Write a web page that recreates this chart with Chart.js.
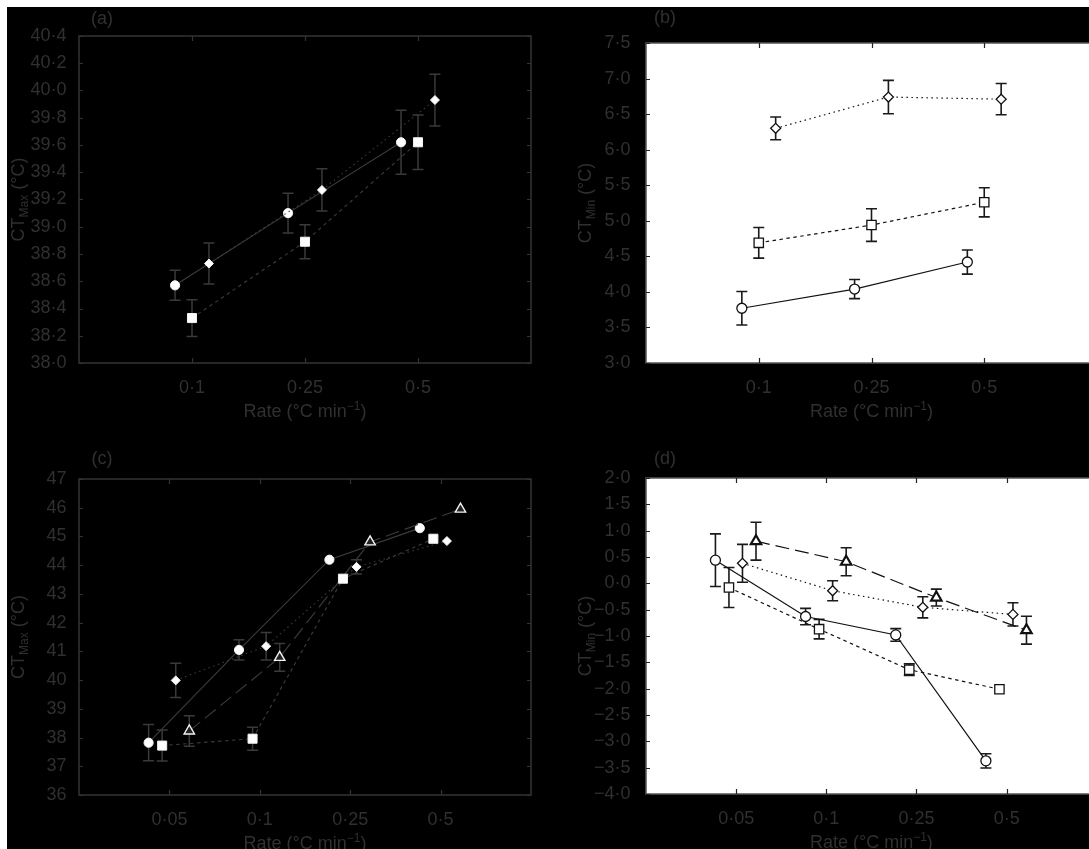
<!DOCTYPE html>
<html>
<head>
<meta charset="utf-8">
<script src="https://cdn.jsdelivr.net/npm/chart.js@4.4.1/dist/chart.umd.min.js"></script>
<style>
  html, body { margin: 0; padding: 0; background: #000; width: 1089px; height: 849px; overflow: hidden; }
  body { position: relative; }
  .panel { position: absolute; overflow: hidden; }
  .strip { position: absolute; background: #fff; z-index: 5; }
</style>
</head>
<body>
<div class="strip" style="left:0;top:0;width:1089px;height:7px"></div>
<div class="strip" style="left:0;top:0;width:7px;height:849px"></div>
<div class="panel" style="left:0;top:0;width:545px;height:425px"><canvas id="panelA" width="545" height="425"></canvas></div>
<div class="panel" style="left:545px;top:0;width:544px;height:425px"><canvas id="panelB" width="560" height="425"></canvas></div>
<div class="panel" style="left:0;top:425px;width:545px;height:424px"><canvas id="panelC" width="545" height="424"></canvas></div>
<div class="panel" style="left:545px;top:425px;width:544px;height:424px"><canvas id="panelD" width="560" height="424"></canvas></div>
<script>
// rates (°C min-1) used as x categories
const ratesAB = ['0·1', '0·25', '0·5'];
const ratesCD = ['0·05', '0·1', '0·25', '0·5'];

// (a) CTmax
const aCircle = [38.57, 39.10, 39.62];
const aCircleErr = [0.11, 0.145, 0.235];
const aSquare = [38.33, 38.89, 39.62];
const aSquareErr = [0.135, 0.125, 0.2];
const aDiamond = [38.73, 39.27, 39.93];
const aDiamondErr = [0.15, 0.155, 0.19];

// (b) CTmin
const bCircle = [3.77, 4.04, 4.42];
const bCircleErr = [0.235, 0.135, 0.17];
const bSquare = [4.69, 4.94, 5.26];
const bSquareErr = [0.215, 0.23, 0.205];
const bDiamond = [6.30, 6.74, 6.71];
const bDiamondErr = [0.16, 0.235, 0.22];

// (c) CTmax
const cCircle = [37.82, 41.05, 44.19, 45.29];
const cCircleErr = [0.63, 0.35, null, null];
const cSquare = [37.72, 37.96, 43.53, 44.92];
const cSquareErr = [0.54, 0.4, null, null];
const cDiamond = [39.99, 41.18, 43.94, 44.84];
const cDiamondErr = [0.6, 0.48, 0.25, null];
const cTriangle = [38.23, 40.79, 44.81, 45.95];
const cTriangleErr = [0.53, 0.48, null, null];

// (d) CTmin
const dCircle = [0.44, -0.63, -0.98, -3.37];
const dCircleErr = [0.5, 0.155, 0.12, 0.135];
const dSquare = [-0.08, -0.87, -1.64, -2.01];
const dSquareErr = [0.38, 0.185, 0.11, null];
const dDiamond = [0.38, -0.14, -0.455, -0.59];
const dDiamondErr = [0.36, 0.19, 0.2, 0.22];
const dTriangle = [0.80, 0.41, -0.27, -0.89];
const dTriangleErr = [0.36, 0.265, 0.16, 0.265];

const FONT = '"Liberation Sans", Arial, Helvetica, sans-serif';
const TEXT = '#303030';

function fmtTick(v, dec) {
    if (Math.abs(v) < 1e-9) v = 0;
    return v.toFixed(dec).replace('.', '·').replace('-', '−');
}

// draws a run of text pieces [text, size, shift] centred on cx
function drawRich(ctx, parts, cx, cy) {
    let total = 0;
    parts.forEach(p => { ctx.font = p[1] + 'px ' + FONT; total += ctx.measureText(p[0]).width; });
    let x = cx - total / 2;
    ctx.textAlign = 'left';
    ctx.textBaseline = 'alphabetic';
    parts.forEach(p => {
        ctx.font = p[1] + 'px ' + FONT;
        ctx.fillText(p[0], x, cy + 6.5 + p[2]);
        x += ctx.measureText(p[0]).width;
    });
}

const figurePlugin = {
    id: 'figure',
    beforeDatasetsDraw(chart, args, o) {
        const {ctx, chartArea: a, scales: {x, y}} = chart;
        ctx.save();
        if (o.plotBg) {
            ctx.fillStyle = o.plotBg;
            ctx.fillRect(a.left, a.top, chart.width - a.left, a.bottom - a.top);
        }
        ctx.strokeStyle = o.frame;
        ctx.lineWidth = 1.5;
        ctx.strokeRect(a.left, a.top, a.right - a.left, a.bottom - a.top);

        // inward tick marks
        ctx.strokeStyle = o.tickColor;
        ctx.lineWidth = 1.2;
        ctx.beginPath();
        y.ticks.forEach(t => {
            const py = Math.round(y.getPixelForValue(t.value)) + 0.5;
            ctx.moveTo(a.left, py); ctx.lineTo(a.left + 4, py);
            ctx.moveTo(a.right, py); ctx.lineTo(a.right - 4, py);
        });
        x.ticks.forEach(t => {
            const px = Math.round(x.getPixelForValue(t.value)) + 0.5;
            ctx.moveTo(px, a.top); ctx.lineTo(px, a.top + 5);
            ctx.moveTo(px, a.bottom); ctx.lineTo(px, a.bottom - 5);
        });
        ctx.stroke();

        // error bars
        ctx.strokeStyle = o.errColor;
        ctx.lineWidth = o.errWidth;
        chart.data.datasets.forEach((ds, di) => {
            const meta = chart.getDatasetMeta(di);
            ds.errors.forEach((e, i) => {
                if (e == null) return;
                const px = meta.data[i].x;
                const y1 = y.getPixelForValue(ds.data[i].y + e);
                const y2 = y.getPixelForValue(ds.data[i].y - e);
                ctx.beginPath();
                ctx.moveTo(px, y1); ctx.lineTo(px, y2);
                ctx.moveTo(px - 5.5, y1); ctx.lineTo(px + 5.5, y1);
                ctx.moveTo(px - 5.5, y2); ctx.lineTo(px + 5.5, y2);
                ctx.stroke();
            });
        });
        ctx.restore();
    },
    afterDraw(chart, args, o) {
        const {ctx, chartArea: a} = chart;
        ctx.save();
        ctx.fillStyle = TEXT;
        ctx.font = '18px ' + FONT;
        ctx.textAlign = 'center';
        ctx.textBaseline = 'middle';
        ctx.fillText(o.label, o.labelX, o.labelY);
        drawRich(ctx, [['Rate (°C min', 18, 0], ['−1', 12, -7], [')', 18, 0]], (a.left + a.right) / 2, a.bottom + 47);
        ctx.translate(o.yTitleX, (a.top + a.bottom) / 2);
        ctx.rotate(-Math.PI / 2);
        drawRich(ctx, [['CT', 18, 0], [o.sub, 12, 4], [' (°C)', 18, 0]], 0, 0);
        ctx.restore();
    }
};

function series(values, errs, offset, style) {
    return Object.assign({
        data: values.map((v, i) => ({x: i + 1 + offset, y: v})),
        errors: errs,
        showLine: true,
        fill: false,
        tension: 0
    }, style);
}

function makePanel(id, cfg) {
    const ctx = document.getElementById(id);
    const canvasW = ctx.width, canvasH = ctx.height;
    return new Chart(ctx, {
        type: 'scatter',
        data: {datasets: cfg.datasets},
        plugins: [figurePlugin],
        options: {
            responsive: false,
            animation: false,
            events: [],
            layout: {padding: {left: 0, top: cfg.area[2], right: canvasW - cfg.area[1], bottom: 0}},
            plugins: {
                legend: {display: false},
                tooltip: {enabled: false},
                figure: cfg.figure
            },
            scales: {
                x: {
                    type: 'linear',
                    min: 0,
                    max: cfg.labels.length + 1,
                    afterBuildTicks: (scale) => { scale.ticks = cfg.labels.map((_, i) => ({value: i + 1})); },
                    afterFit: (scale) => { scale.height = canvasH - cfg.area[3]; },
                    grid: {display: false},
                    border: {display: false},
                    ticks: {
                        color: TEXT,
                        font: {family: FONT, size: 18},
                        padding: 6,
                        autoSkip: false,
                        maxRotation: 0,
                        callback: (v) => cfg.labels[v - 1]
                    }
                },
                y: {
                    type: 'linear',
                    min: cfg.yMin,
                    max: cfg.yMax,
                    afterFit: (scale) => { scale.width = cfg.area[0]; },
                    grid: {display: false},
                    border: {display: false},
                    ticks: {
                        color: TEXT,
                        font: {family: FONT, size: 18},
                        padding: cfg.yPad,
                        stepSize: cfg.yStep,
                        autoSkip: false,
                        callback: (v) => fmtTick(v, cfg.yDec)
                    }
                }
            }
        }
    });
}

// styles for the dark (a, c) and light (b, d) panels
const darkLine = '#3c3c3c';
const lightLine = '#111';

const darkFigure = {frame: '#333', tickColor: '#333', errColor: '#3a3a3a', errWidth: 1.5, plotBg: null};
const lightFigure = {frame: '#555', tickColor: '#222', errColor: '#1a1a1a', errWidth: 1.6, plotBg: '#fff'};

function darkStyle(shape, dash) {
    return {
        borderColor: darkLine, borderWidth: 1.1, borderDash: dash,
        pointStyle: shape.style, pointRadius: shape.r,
        pointBackgroundColor: shape.fill || '#fff', pointBorderColor: '#f2f2f2', pointBorderWidth: shape.bw || 1
    };
}
function lightStyle(shape, dash) {
    return {
        borderColor: lightLine, borderWidth: 1.2, borderDash: dash,
        pointStyle: shape.style, pointRadius: shape.r,
        pointBackgroundColor: '#fff', pointBorderColor: '#111', pointBorderWidth: shape.bw || 1.3
    };
}

const SOLID = [];
const DASHED = [3.5, 3.5];
const DOTTED = [1.5, 3.5];
const LONGDASH = [14, 6];

makePanel('panelA', {
    labels: ratesAB, area: [79, 531, 36, 363], yMin: 38, yMax: 40.4, yStep: 0.2, yDec: 1, yPad: 4.5,
    figure: Object.assign({label: '(a)', labelX: 102, labelY: 19, yTitleX: 17, sub: 'Max'}, darkFigure),
    datasets: [
        series(aSquare, aSquareErr, 0, darkStyle({style: 'rect', r: 6.4}, DASHED)),
        series(aDiamond, aDiamondErr, 0.15, darkStyle({style: 'rectRot', r: 4.5}, DOTTED)),
        series(aCircle, aCircleErr, -0.15, darkStyle({style: 'circle', r: 4.6}, SOLID))
    ]
});

makePanel('panelB', {
    labels: ratesAB, area: [101, 552, 43, 363], yMin: 3, yMax: 7.5, yStep: 0.5, yDec: 1, yPad: 7.5,
    figure: Object.assign({label: '(b)', labelX: 120, labelY: 18, yTitleX: 39, sub: 'Min'}, lightFigure),
    datasets: [
        series(bSquare, bSquareErr, 0, lightStyle({style: 'rect', r: 6.6}, DASHED)),
        series(bDiamond, bDiamondErr, 0.15, lightStyle({style: 'rectRot', r: 5}, DOTTED)),
        series(bCircle, bCircleErr, -0.15, lightStyle({style: 'circle', r: 5}, SOLID))
    ]
});

makePanel('panelC', {
    labels: ratesCD, area: [79, 531, 54, 370], yMin: 36, yMax: 47, yStep: 1, yDec: 0, yPad: 4.5,
    figure: Object.assign({label: '(c)', labelX: 102, labelY: 34, yTitleX: 17, sub: 'Max'}, darkFigure),
    datasets: [
        series(cSquare, cSquareErr, -0.08, darkStyle({style: 'rect', r: 6.4}, DASHED)),
        series(cDiamond, cDiamondErr, 0.07, darkStyle({style: 'rectRot', r: 4.5}, DOTTED)),
        series(cTriangle, cTriangleErr, 0.22, darkStyle({style: 'triangle', r: 6, fill: '#222', bw: 1.4}, LONGDASH)),
        series(cCircle, cCircleErr, -0.23, darkStyle({style: 'circle', r: 4.6}, SOLID))
    ]
});

makePanel('panelD', {
    labels: ratesCD, area: [101, 552, 53, 369], yMin: -4, yMax: 2, yStep: 0.5, yDec: 1, yPad: 7.5,
    figure: Object.assign({label: '(d)', labelX: 120, labelY: 34, yTitleX: 39, sub: 'Min'}, lightFigure),
    datasets: [
        series(dSquare, dSquareErr, -0.08, lightStyle({style: 'rect', r: 6.6}, DASHED)),
        series(dDiamond, dDiamondErr, 0.07, lightStyle({style: 'rectRot', r: 5}, DOTTED)),
        series(dTriangle, dTriangleErr, 0.22, lightStyle({style: 'triangle', r: 6, bw: 2.2}, LONGDASH)),
        series(dCircle, dCircleErr, -0.23, lightStyle({style: 'circle', r: 5}, SOLID))
    ]
});
</script>
</body>
</html>
